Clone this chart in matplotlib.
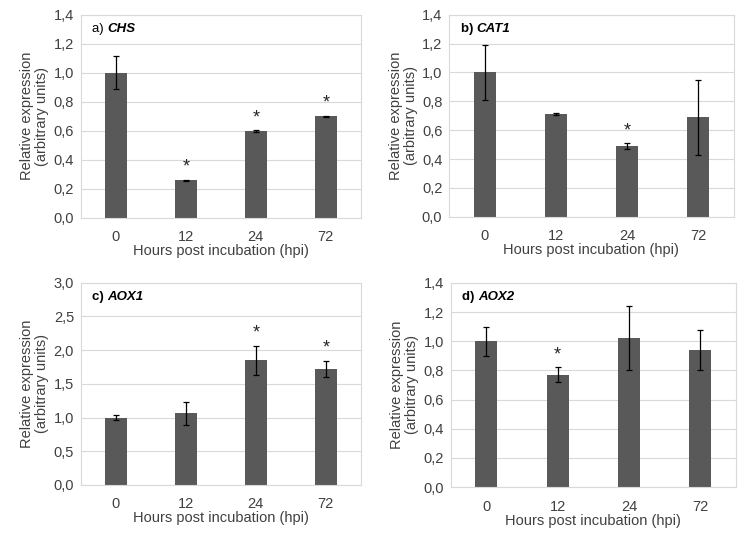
import matplotlib.pyplot as plt

plt.rcParams['font.family'] = ['Liberation Sans', 'DejaVu Sans']

hours = ["0", "12", "24", "72"]

genes = ["CHS", "CAT1", "AOX1", "AOX2"]
letters = ["a)", "b)", "c)", "d)"]

chs_mean = [1.00, 0.26, 0.60, 0.70]
chs_err = [0.115, 0.004, 0.005, 0.003]
chs_sig = [False, True, True, True]

cat1_mean = [1.00, 0.71, 0.49, 0.69]
cat1_err = [0.19, 0.008, 0.02, 0.26]
cat1_sig = [False, False, True, False]

aox1_mean = [1.00, 1.06, 1.85, 1.72]
aox1_err = [0.03, 0.175, 0.215, 0.12]
aox1_sig = [False, False, True, True]

aox2_mean = [1.00, 0.77, 1.02, 0.94]
aox2_err = [0.10, 0.05, 0.22, 0.14]
aox2_sig = [False, True, False, False]

ymaxes = [1.4, 1.4, 3.0, 1.4]
ysteps = [0.2, 0.2, 0.5, 0.2]

panels = [
    (chs_mean, chs_err, chs_sig),
    (cat1_mean, cat1_err, cat1_sig),
    (aox1_mean, aox1_err, aox1_sig),
    (aox2_mean, aox2_err, aox2_sig),
]

# axes boxes in figure fractions (left, bottom, width, height)
boxes = [
    (0.108, 0.601, 0.373, 0.372),
    (0.599, 0.603, 0.379, 0.370),
    (0.108, 0.112, 0.373, 0.370),
    (0.601, 0.108, 0.380, 0.374),
]

bar_color = "#595959"
grid_color = "#d9d9d9"
text_color = "#404040"

fig = plt.figure(figsize=(7.5, 5.46), dpi=100)

for i in range(4):
    mean, err, sig = panels[i]
    ax = fig.add_axes(boxes[i])
    x = list(range(len(hours)))
    ax.bar(x, mean, width=0.31, color=bar_color, zorder=2)
    ax.errorbar(x, mean, yerr=err, fmt="none", ecolor="black", elinewidth=0.9,
                capsize=2.5, capthick=0.9, zorder=3)
    ymax = ymaxes[i]
    step = ysteps[i]
    for j in range(len(x)):
        if sig[j]:
            ax.text(x[j], mean[j] + err[j] + ymax * 0.02, "*", ha="center",
                    va="bottom", fontsize=13, color="#262626")
    ax.set_xlim(-0.5, 3.5)
    ax.set_ylim(0, ymax)
    nt = int(round(ymax / step))
    ticks = [k * step for k in range(nt + 1)]
    ax.set_yticks(ticks)
    ax.set_yticklabels([("%.1f" % t).replace(".", ",") for t in ticks])
    ax.set_xticks(x)
    ax.set_xticklabels(hours)
    ax.grid(axis="y", color=grid_color, linewidth=0.8, zorder=0)
    ax.set_axisbelow(True)
    for s in ax.spines.values():
        s.set_color(grid_color)
        s.set_linewidth(0.8)
    ax.tick_params(length=0, labelsize=10.5, labelcolor=text_color)
    ax.tick_params(axis="x", pad=9)
    ax.tick_params(axis="y", pad=5)
    ax.set_xlabel("Hours post incubation (hpi)", fontsize=10.5, color=text_color, labelpad=0)
    ax.set_ylabel("Relative expression\n(arbitrary units)", fontsize=10.5,
                  color=text_color, labelpad=3, linespacing=1.1)

    weight = "normal" if i == 0 else "bold"
    t1 = ax.text(0.04, 0.93, letters[i] + " ", transform=ax.transAxes, fontsize=9.5,
                 fontweight=weight, color="black", va="center", ha="left")
    ax.annotate(genes[i], xy=(1, 0.5), xycoords=t1, va="center", ha="left",
                fontsize=9.5, fontweight="bold", fontstyle="italic", color="black")

fig.savefig("out.png", dpi=100)
